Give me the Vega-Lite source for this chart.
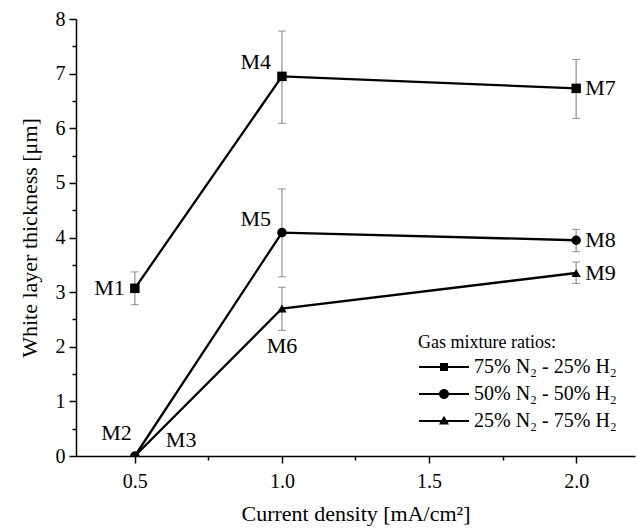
{
  "$schema": "https://vega.github.io/schema/vega-lite/v6.json",
  "width": 559,
  "height": 437,
  "autosize": {"type": "none"},
  "padding": {"left": 76, "top": 19, "right": 2, "bottom": 73},
  "background": "white",
  "config": {
    "view": {"stroke": null},
    "font": "Liberation Serif",
    "axis": {
      "grid": false,
      "domainColor": "black",
      "domainWidth": 1.5,
      "tickColor": "black",
      "tickWidth": 1.5,
      "labelColor": "black",
      "labelFont": "Liberation Serif",
      "labelFontSize": 20,
      "titleFont": "Liberation Serif",
      "titleFontSize": 22,
      "titleFontWeight": "normal",
      "titleColor": "black"
    }
  },
  "data": {
    "values": [
      {"series": "75% N₂ - 25% H₂", "x": 0.5, "y": 3.07, "lo": 2.77, "hi": 3.37, "label": "M1"},
      {"series": "75% N₂ - 25% H₂", "x": 1.0, "y": 6.95, "lo": 6.09, "hi": 7.78, "label": "M4"},
      {"series": "75% N₂ - 25% H₂", "x": 2.0, "y": 6.73, "lo": 6.18, "hi": 7.26, "label": "M7"},
      {"series": "50% N₂ - 50% H₂", "x": 0.5, "y": 0, "lo": null, "hi": null, "label": "M2"},
      {"series": "50% N₂ - 50% H₂", "x": 1.0, "y": 4.09, "lo": 3.28, "hi": 4.89, "label": "M5"},
      {"series": "50% N₂ - 50% H₂", "x": 2.0, "y": 3.95, "lo": 3.74, "hi": 4.15, "label": "M8"},
      {"series": "25% N₂ - 75% H₂", "x": 0.5, "y": 0, "lo": null, "hi": null, "label": "M3"},
      {"series": "25% N₂ - 75% H₂", "x": 1.0, "y": 2.7, "lo": 2.3, "hi": 3.09, "label": "M6"},
      {"series": "25% N₂ - 75% H₂", "x": 2.0, "y": 3.35, "lo": 3.16, "hi": 3.55, "label": "M9"}
    ]
  },
  "encoding": {
    "x": {
      "field": "x",
      "type": "quantitative",
      "scale": {"domain": [0.3, 2.2], "nice": false, "zero": false},
      "axis": {
        "title": "Current density [mA/cm²]",
        "values": [0.5, 0.75, 1, 1.25, 1.5, 1.75, 2],
        "format": ".1f",
        "labelExpr": "(datum.value*4)%2==0 ? datum.label : ''",
        "tickSize": {"condition": {"test": "(datum.value*4)%2==0", "value": 7}, "value": 4},
        "labelPadding": 8,
        "titlePadding": 12
      }
    },
    "y": {
      "field": "y",
      "type": "quantitative",
      "scale": {"domain": [0, 8], "nice": false},
      "axis": {
        "title": "White layer thickness [μm]",
        "values": [0, 0.5, 1, 1.5, 2, 2.5, 3, 3.5, 4, 4.5, 5, 5.5, 6, 6.5, 7, 7.5, 8],
        "format": ".0f",
        "labelExpr": "datum.value%1==0 ? datum.label : ''",
        "tickSize": {"condition": {"test": "datum.value%1==0", "value": 7}, "value": 4},
        "labelPadding": 4,
        "titlePadding": 14
      }
    }
  },
  "layer": [
    {
      "transform": [{"filter": "datum.lo != null"}],
      "mark": {"type": "rule", "color": "#999999", "strokeWidth": 1.3},
      "encoding": {
        "y": {"field": "lo", "type": "quantitative"},
        "y2": {"field": "hi"}
      }
    },
    {
      "transform": [{"filter": "datum.lo != null"}],
      "mark": {"type": "tick", "orient": "horizontal", "size": 8, "thickness": 1, "color": "#666666"},
      "encoding": {"y": {"field": "lo", "type": "quantitative"}}
    },
    {
      "transform": [{"filter": "datum.hi != null"}],
      "mark": {"type": "tick", "orient": "horizontal", "size": 8, "thickness": 1, "color": "#666666"},
      "encoding": {"y": {"field": "hi", "type": "quantitative"}}
    },
    {
      "mark": {"type": "line", "color": "black", "strokeWidth": 2.3},
      "encoding": {"detail": {"field": "series"}}
    },
    {
      "mark": {"type": "point", "filled": true, "color": "black", "opacity": 1, "size": 90, "clip": true},
      "encoding": {
        "shape": {
          "field": "series",
          "type": "nominal",
          "scale": {"domain": ["75% N₂ - 25% H₂", "50% N₂ - 50% H₂", "25% N₂ - 75% H₂"], "range": ["square", "circle", "triangle-up"]},
          "legend": null
        }
      }
    },
    {
      "mark": {"type": "point", "filled": true, "color": "black", "opacity": 0},
      "encoding": {
        "shape": {
          "field": "series",
          "type": "nominal",
          "scale": {
            "domain": ["75% N₂ - 25% H₂", "50% N₂ - 50% H₂", "25% N₂ - 75% H₂"],
            "range": [
              "M-5,-0.2H5V0.2H-5ZM-0.8,-0.8H0.8V0.8H-0.8Z",
              "M-5,-0.2H5V0.2H-5ZM-1,0A1,1,0,1,1,1,0A1,1,0,1,1,-1,0Z",
              "M-5,-0.2H5V0.2H-5ZM0,-1.05L1,0.7L-1,0.7Z"
            ]
          },
          "legend": {
            "title": "Gas mixture ratios:",
            "orient": "none",
            "legendX": 342,
            "legendY": 315,
            "padding": 0,
            "symbolSize": 100,
            "symbolFillColor": "black",
            "symbolOpacity": 1,
            "symbolOffset": 16,
            "labelOffset": 20,
            "labelFont": "Liberation Serif",
            "labelFontSize": 20,
            "labelColor": "black",
            "labelLimit": 300,
            "titleFont": "Liberation Serif",
            "titleFontSize": 18,
            "titleFontWeight": "normal",
            "titleColor": "black",
            "titlePadding": 5,
            "rowPadding": 7,
            "encode": {
              "symbols": {
                "update": {
                  "fill": {"value": "black"},
                  "opacity": {"value": 1},
                  "fillOpacity": {"value": 1}
                }
              }
            }
          }
        }
      }
    },
    {
      "transform": [{"filter": "datum.label == 'M1'"}],
      "mark": {"type": "text", "font": "Liberation Serif", "fontSize": 22, "color": "black", "align": "right", "baseline": "middle", "dx": -10},
      "encoding": {"text": {"field": "label"}}
    },
    {
      "transform": [{"filter": "datum.label == 'M4' || datum.label == 'M5'"}],
      "mark": {"type": "text", "font": "Liberation Serif", "fontSize": 22, "color": "black", "align": "right", "baseline": "middle", "dx": -11, "dy": -14},
      "encoding": {"text": {"field": "label"}}
    },
    {
      "transform": [{"filter": "datum.label == 'M7' || datum.label == 'M8' || datum.label == 'M9'"}],
      "mark": {"type": "text", "font": "Liberation Serif", "fontSize": 22, "color": "black", "align": "left", "baseline": "middle", "dx": 9},
      "encoding": {"text": {"field": "label"}}
    },
    {
      "transform": [{"filter": "datum.label == 'M6'"}],
      "mark": {"type": "text", "font": "Liberation Serif", "fontSize": 22, "color": "black", "align": "center", "baseline": "middle", "dy": 37},
      "encoding": {"text": {"field": "label"}}
    },
    {
      "transform": [{"filter": "datum.label == 'M2'"}],
      "mark": {"type": "text", "font": "Liberation Serif", "fontSize": 22, "color": "black", "align": "right", "baseline": "middle", "dx": -3, "dy": -23},
      "encoding": {"text": {"field": "label"}}
    },
    {
      "transform": [{"filter": "datum.label == 'M3'"}],
      "mark": {"type": "text", "font": "Liberation Serif", "fontSize": 22, "color": "black", "align": "left", "baseline": "middle", "dx": 31, "dy": -16},
      "encoding": {"text": {"field": "label"}}
    }
  ],
  "resolve": {"scale": {"shape": "independent"}}
}
